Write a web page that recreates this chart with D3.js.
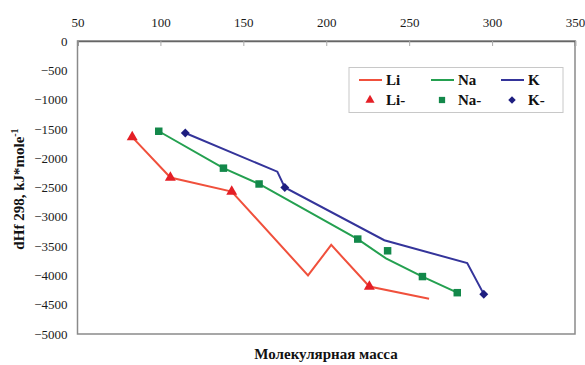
<!DOCTYPE html>
<meta charset="utf-8">
<style>
    body { margin: 0; background: #fff; }
    svg text { font-family: "Liberation Serif", "Times New Roman", serif; }
    .tick-label { font-size: 13px; fill: #1a1a1a; }
    .legend text { font-size: 15px; font-weight: bold; fill: #111; }
</style>
<svg width="585" height="365"></svg>
<script src="https://d3js.org/d3.v7.min.js"></script>
<script>
    // line series (mass, dHf)
    var liLineX = [83, 106, 143, 189, 203, 226, 262];
    var liLineY = [-1640, -2330, -2570, -4000, -3480, -4190, -4400];
    var naLineX = [99, 138, 159.5, 219, 236, 258, 279];
    var naLineY = [-1540, -2170, -2440, -3380, -3710, -4020, -4295];
    var kLineX = [115, 170.5, 175, 235, 285, 295];
    var kLineY = [-1570, -2230, -2500, -3400, -3790, -4320];

    // marker series
    var liPtsX = [83, 106, 143, 226];
    var liPtsY = [-1640, -2330, -2570, -4190];
    var naPtsX = [99, 138, 159.5, 219, 237, 258, 279];
    var naPtsY = [-1540, -2170, -2440, -3380, -3580, -4020, -4295];
    var kPtsX = [115, 175, 295];
    var kPtsY = [-1570, -2500, -4320];

    var xTicks = [50, 100, 150, 200, 250, 300, 350];
    var yTicks = [0, -500, -1000, -1500, -2000, -2500, -3000, -3500, -4000, -4500, -5000];

    var svg = d3.select("svg");
    var mLeft = 77.5, mRight = 575, mTop = 41, mBottom = 334;
    var serif = "'Liberation Serif', 'Times New Roman', serif";

    var x = d3.scaleLinear().domain([50, 350]).range([mLeft, mRight]);
    var y = d3.scaleLinear().domain([-5000, 0]).range([mBottom, mTop]);

    function zip(xs, ys) { return xs.map(function (v, i) { return [v, ys[i]]; }); }

    // plot frame
    svg.append("rect")
        .attr("x", mLeft).attr("y", mTop)
        .attr("width", mRight - mLeft).attr("height", mBottom - mTop)
        .attr("fill", "none").attr("stroke", "#8a8a8a").attr("stroke-width", 1.5);

    // top axis (category axis sits at y = 0)
    var xAxis = svg.append("g")
        .attr("transform", "translate(0," + y(0) + ")")
        .call(d3.axisTop(x).tickValues(xTicks).tickSize(-5).tickPadding(14).tickFormat(d3.format("d")))
        .attr("font-family", serif).attr("font-size", 13);
    xAxis.select(".domain").attr("stroke", "#666").attr("stroke-width", 1.5);
    xAxis.selectAll(".tick line").attr("stroke", "#aaa");
    xAxis.selectAll("text").attr("class", "tick-label");

    // left axis
    var yAxis = svg.append("g")
        .attr("transform", "translate(" + mLeft + ",0)")
        .call(d3.axisLeft(y).tickValues(yTicks).tickSize(0).tickPadding(10).tickFormat(d3.format("d")))
        .attr("font-family", serif).attr("font-size", 13);
    yAxis.select(".domain").remove();
    yAxis.selectAll("text").attr("class", "tick-label");

    var line = d3.line().x(function (d) { return x(d[0]); }).y(function (d) { return y(d[1]); });

    var series = [
        { name: "Li", line: zip(liLineX, liLineY), pts: zip(liPtsX, liPtsY), lc: "#f0503c", mc: "#e41f26", sym: d3.symbolTriangle, size: 52, rot: 0 },
        { name: "Na", line: zip(naLineX, naLineY), pts: zip(naPtsX, naPtsY), lc: "#24a050", mc: "#13884a", sym: d3.symbolSquare, size: 56, rot: 0 },
        { name: "K", line: zip(kLineX, kLineY), pts: zip(kPtsX, kPtsY), lc: "#34349a", mc: "#1e1e80", sym: d3.symbolSquare, size: 40, rot: 45 }
    ];

    series.forEach(function (s) {
        svg.append("path")
            .datum(s.line)
            .attr("fill", "none")
            .attr("stroke", s.lc)
            .attr("stroke-width", 2)
            .attr("d", line);
    });
    series.forEach(function (s) {
        svg.append("g").selectAll("path")
            .data(s.pts)
            .enter().append("path")
            .attr("transform", function (d) { return "translate(" + x(d[0]) + "," + y(d[1]) + ") rotate(" + s.rot + ")"; })
            .attr("d", d3.symbol().type(s.sym).size(s.size))
            .attr("fill", s.mc);
    });

    // legend
    var lg = svg.append("g").attr("class", "legend");
    lg.append("rect")
        .attr("x", 349).attr("y", 67.5).attr("width", 214).attr("height", 45)
        .attr("fill", "#fff").attr("stroke", "#c8c8c8").attr("stroke-width", 1);
    var lx = [359, 431, 501];
    series.forEach(function (s, i) {
        lg.append("line")
            .attr("x1", lx[i]).attr("x2", lx[i] + 23)
            .attr("y1", 80).attr("y2", 80)
            .attr("stroke", s.lc).attr("stroke-width", 2);
        lg.append("text").attr("x", lx[i] + 27).attr("y", 85).text(s.name);
        lg.append("path")
            .attr("transform", "translate(" + (lx[i] + 11) + ",100) rotate(" + s.rot + ")")
            .attr("d", d3.symbol().type(s.sym).size(s.size * 0.7))
            .attr("fill", s.mc);
        lg.append("text").attr("x", lx[i] + 27).attr("y", 105).text(s.name + "-");
    });

    // axis titles
    var yt = svg.append("text")
        .attr("transform", "translate(24,189) rotate(-90)")
        .attr("text-anchor", "middle")
        .attr("font-size", 15).attr("font-weight", "bold").attr("fill", "#111");
    yt.append("tspan").text("dHf 298, kJ*mole");
    yt.append("tspan").attr("dy", -6).attr("font-size", 10).text("-1");

    svg.append("text")
        .attr("x", 326).attr("y", 359)
        .attr("text-anchor", "middle")
        .attr("font-size", 15).attr("font-weight", "bold").attr("fill", "#111")
        .text("Молекулярная масса");
</script>
